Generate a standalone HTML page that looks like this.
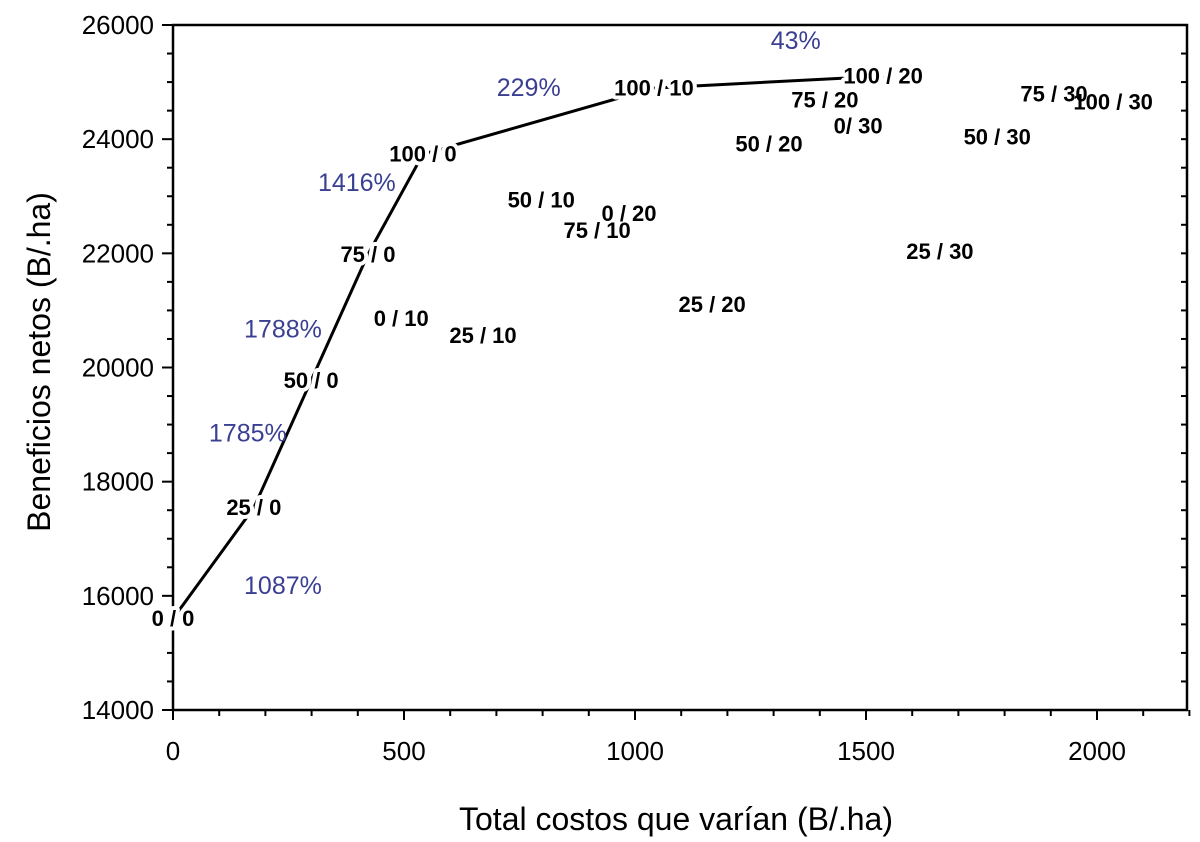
<!DOCTYPE html>
<html><head><meta charset="utf-8"><style>
html,body{margin:0;padding:0;background:#fff;}
svg{display:block;font-family:"Liberation Sans",Arial,sans-serif;}
.pl{font-weight:bold;font-size:22px;fill:#000;text-anchor:middle;dominant-baseline:central;}
.halo{font-weight:bold;font-size:22px;fill:#fff;stroke:#fff;stroke-width:8px;stroke-linejoin:round;text-anchor:middle;dominant-baseline:central;}
.pct{font-size:25px;fill:#3a3f92;text-anchor:middle;dominant-baseline:central;}
.tick{font-size:26px;fill:#000;}
</style></head><body>
<svg id="chart" width="1200" height="842" viewBox="0 0 1200 842" xmlns="http://www.w3.org/2000/svg"></svg>
<script>
const xTicks=[0,500,1000,1500,2000];
const yTicks=[14000,16000,18000,20000,22000,24000,26000];
const curveLabels=["0 / 0","25 / 0","50 / 0","75 / 0","100 / 0","100 / 10","100 / 20"];
const curveX=[0,175,299,422,541,1041,1537];
const curveY=[15600,17544,19772,21982,23737,24895,25105];
const otherLabels=["0 / 10","25 / 10","50 / 10","75 / 10","0 / 20","25 / 20","50 / 20","75 / 20","0/ 30","25 / 30","50 / 30","75 / 30","100 / 30"];
const otherX=[494,671,797,918,987,1167,1290,1411,1483,1660,1784,1907,2035];
const otherY=[20860,20561,22930,22404,22702,21105,23912,24684,24228,22035,24035,24789,24649];
const pctLabels=["1087%","1785%","1788%","1416%","229%","43%"];
const pctX=[238,162,238,398,770,1348];
const pctY=[16170,18840,20670,23230,24895,25720];

const L=173,R=1187,T=25,B=710;
const sx=v=>L+(v-0)/500*231;
const sy=v=>B-(v-14000)/12000*(B-T);
const svg=document.getElementById('chart');
const NS='http://www.w3.org/2000/svg';
function mk(tag,attrs,parent){const e=document.createElementNS(NS,tag);for(const k in attrs)e.setAttribute(k,attrs[k]);(parent||svg).appendChild(e);return e;}

const frame=mk('rect',{x:L,y:T,width:R-L,height:B-T,fill:'none',stroke:'#000','stroke-width':2.5});



for(let v=0;v<=2200;v+=100){const x=sx(v);const major=v%500===0;
 const t=mk('line',{x1:x,x2:x,y1:B,y2:B+(major?10:6),stroke:'#000','stroke-width':2});
 
 }
xTicks.forEach(v=>{const t=mk('text',{x:sx(v),y:B+50,'text-anchor':'middle',class:'tick'});t.textContent=v;
 
 });
for(let v=14000;v<=26000;v+=500){const y=sy(v);const major=v%2000===0;
 const t=mk('line',{x1:L-(major?11:6),x2:L,y1:y,y2:y,stroke:'#000','stroke-width':2});
 
 
 const r=mk('line',{x1:R-6,x2:R,y1:y,y2:y,stroke:'#000','stroke-width':2});
 
 }
yTicks.forEach(v=>{const t=mk('text',{x:L-19,y:sy(v)+9,'text-anchor':'end',class:'tick'});t.textContent=v;
 
 });

const xt=mk('text',{x:676,y:830,'text-anchor':'middle','font-size':32});xt.textContent='Total costos que varían (B/.ha)';


const yt=mk('text',{x:0,y:0,'text-anchor':'middle','font-size':32,transform:'translate(50,362) rotate(-90)'});yt.textContent='Beneficios netos (B/.ha)';



const pts=curveX.map((x,i)=>sx(x)+','+sy(curveY[i])).join(' ');
const pl=mk('polyline',{points:pts,fill:'none',stroke:'#000','stroke-width':3});



// halos under curve labels only (to break the line), drawn before all label text
curveLabels.forEach((s,i)=>{const h=mk('text',{x:sx(curveX[i]),y:sy(curveY[i]),class:'halo','aria-hidden':'true'});h.textContent=s;
 
 });

curveLabels.forEach((s,i)=>{const t=mk('text',{x:sx(curveX[i]),y:sy(curveY[i]),class:'pl'});t.textContent=s;
 
 });
otherLabels.forEach((s,i)=>{const t=mk('text',{x:sx(otherX[i]),y:sy(otherY[i]),class:'pl'});t.textContent=s;
 
 });
pctLabels.forEach((s,i)=>{const t=mk('text',{x:sx(pctX[i]),y:sy(pctY[i]),class:'pct'});t.textContent=s;
 
 });
</script>
</body></html>
